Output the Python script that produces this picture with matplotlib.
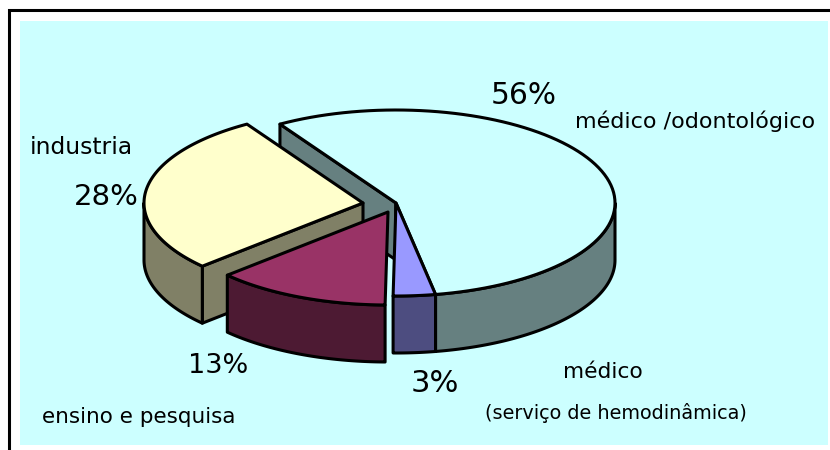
import numpy as np
import matplotlib
matplotlib.use("Agg")
import matplotlib.pyplot as plt
from matplotlib.patches import Polygon, Rectangle

# Data
categories = ["médico /odontológico", "médico\n(serviço de hemodinâmica)", "ensino e pesquisa", "industria"]
shares = [56.0, 3.1, 12.9, 28.0]
share_labels = ["56%", "3%", "13%", "28%"]

# Style / layout
top_colors = ["#CCFFFF", "#9999FF", "#993366", "#FFFFCC"]
side_colors = ["#668080", "#4D4D80", "#4D1A33", "#808066"]
centers = [(396, 203), (396, 203), (388, 212), (363, 203)]
RX, RY, DEPTH = 219, 93, 57
START = 122.0
BG = "#CCFFFF"
LW = 2.2
FONT = "DejaVu Sans"

fig = plt.figure(figsize=(8.30, 4.50), dpi=100)
ax = fig.add_axes([0, 0, 1, 1])
ax.set_xlim(0, 830)
ax.set_ylim(450, 0)
ax.axis("off")

ax.add_patch(Rectangle((20, 21), 808, 424, fc=BG, ec="none", zorder=0))
ax.plot([9, 9, 830], [450, 10, 10], color="black", lw=2.2, solid_joinstyle="miter", zorder=1)


def arc(c, t0, t1, n=90):
    t = np.radians(np.linspace(t0, t1, n))
    return np.column_stack([c[0] + RX * np.cos(t), c[1] - RY * np.sin(t)])


def poly(pts, fc, z):
    ax.add_patch(Polygon(pts, closed=True, fc=fc, ec="black", lw=LW, joinstyle="round", zorder=z))


angles = START - np.cumsum([0] + [s * 3.6 for s in shares])
down = np.array([0, DEPTH])
order = [0, 1, 3, 2]
for z, i in enumerate(order):
    base = 2 + z * 3
    c, t0, t1 = np.array(centers[i], float), angles[i], angles[i + 1]
    a = arc(c, t0, t1)
    # radial cut walls that face the viewer
    if np.sin(np.radians(t0 + 90)) < -0.05:
        poly([c, a[0], a[0] + down, c + down], side_colors[i], base)
    if np.sin(np.radians(t1 - 90)) < -0.05:
        poly([c, a[-1], a[-1] + down, c + down], side_colors[i], base)
    # outer wall: only the part of the rim facing the viewer
    lo, hi = max(t1, -180), min(t0, 0)
    if lo < hi:
        rim = arc(c, lo, hi)
        poly(np.vstack([rim, (rim + down)[::-1]]), side_colors[i], base + 1)
    poly(np.vstack([c, a]), top_colors[i], base + 2)

txt = dict(color="black", family=FONT, zorder=30, va="center")
ax.text(524, 95, share_labels[0], ha="center", fontsize=21.3, **txt)
ax.text(435, 384, share_labels[1], ha="center", fontsize=22, **txt)
ax.text(218, 366, share_labels[2], ha="center", fontsize=19.5, **txt)
ax.text(106, 197, share_labels[3], ha="center", fontsize=21, **txt)
ax.text(695, 121, categories[0], ha="center", fontsize=16, **txt)
line1, line2 = categories[1].split("\n")
ax.text(603, 372, line1, ha="center", fontsize=15.7, **txt)
ax.text(616, 413, line2, ha="center", fontsize=13.9, **txt)
ax.text(139, 417, categories[2], ha="center", fontsize=15.5, **txt)
ax.text(81, 148, categories[3], ha="center", fontsize=16.8, **txt)

fig.savefig("out.png", dpi=100)
